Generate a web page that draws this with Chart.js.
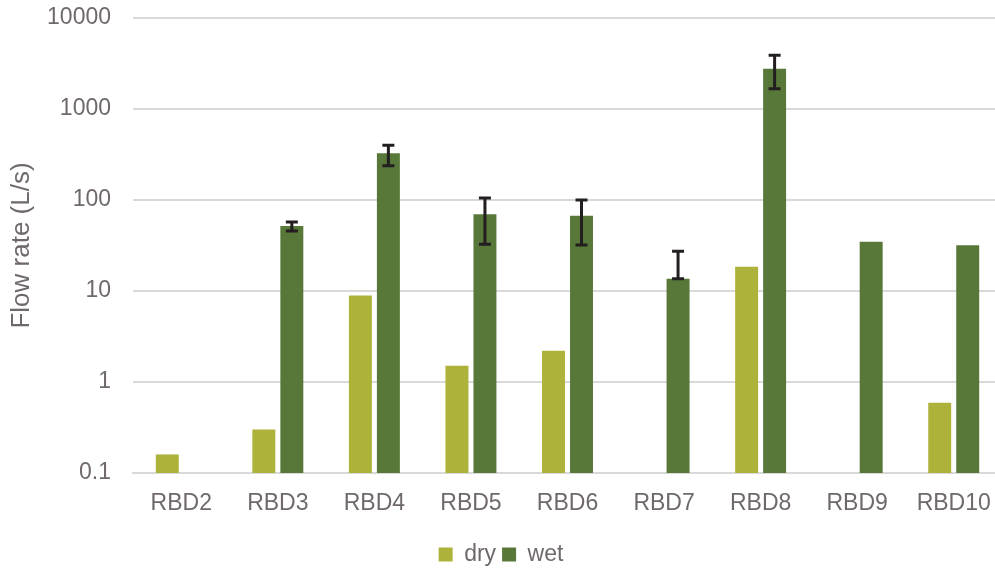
<!DOCTYPE html>
<html>
<head>
	<meta charset="utf-8">
	<title>Flow rate</title>
	<style>
		body { margin: 0; overflow: hidden; background: #fff; }
	</style>
</head>
<body>
	<canvas id="flowChart" width="1003" height="570"></canvas>
	<script src="https://cdn.jsdelivr.net/npm/chart.js"></script>
	<script>
		// values
		const sites = ['RBD2', 'RBD3', 'RBD4', 'RBD5', 'RBD6', 'RBD7', 'RBD8', 'RBD9', 'RBD10'];
		const dryFlow = [0.16, 0.30, 8.9, 1.51, 2.21, null, 18.5, null, 0.59];
		const wetFlow = [null, 51.8, 326, 69.6, 67.2, 13.6, 2770, 34.8, 31.8];
		const wetLow = [null, 45.6, 238, 32.6, 32, 13.6, 1670, null, null];
		const wetHigh = [null, 57.3, 399, 105, 100, 27.3, 3890, null, null];
		const yTicks = [0.1, 1, 10, 100, 1000, 10000];

		const textColor = '#6f6969';
		const gridColor = '#d9d9d9';

		// whiskers for the wet series
		const errorBars = {
			id: 'errorBars',
			afterDatasetsDraw(chart) {
				const ctx = chart.ctx;
				const meta = chart.getDatasetMeta(1);
				const y = chart.scales.y;
				ctx.save();
				ctx.strokeStyle = '#231f20';
				ctx.lineWidth = 3;
				meta.data.forEach((bar, i) => {
					if (wetLow[i] == null || wetHigh[i] == null) return;
					const x = bar.x;
					const yLo = y.getPixelForValue(wetLow[i]);
					const yHi = y.getPixelForValue(wetHigh[i]);
					ctx.beginPath();
					ctx.moveTo(x, yLo);
					ctx.lineTo(x, yHi);
					ctx.moveTo(x - 6, yLo);
					ctx.lineTo(x + 6, yLo);
					ctx.moveTo(x - 6, yHi);
					ctx.lineTo(x + 6, yHi);
					ctx.stroke();
				});
				ctx.restore();
			}
		};

		new Chart(document.getElementById('flowChart'), {
			type: 'bar',
			data: {
				labels: sites,
				datasets: [
					{ label: 'dry', data: dryFlow, backgroundColor: '#adb23a' },
					{ label: 'wet', data: wetFlow, backgroundColor: '#58783a' }
				]
			},
			options: {
				responsive: false,
				animation: false,
				categoryPercentage: 0.58,
				barPercentage: 0.82,
				layout: { padding: { top: 18, right: 1, bottom: -6, left: 0 } },
				plugins: {
					legend: {
						position: 'bottom',
						labels: {
							color: textColor,
							boxWidth: 14,
							boxHeight: 14,
							padding: 6,
							font: { family: 'Liberation Sans', size: 23 }
						}
					},
					tooltip: { enabled: false }
				},
				scales: {
					x: {
						afterFit(scale) { scale.height = 64; },
						grid: { display: false },
						border: { color: gridColor, width: 2 },
						ticks: {
							color: textColor,
							padding: 9,
							font: { family: 'Liberation Sans', size: 23 }
						}
					},
					y: {
						type: 'logarithmic',
						min: 0.1,
						max: 10000,
						afterFit(scale) { scale.width = 133; },
						afterBuildTicks(scale) {
							scale.ticks = yTicks.map(v => ({ value: v, major: true }));
						},
						grid: {
							color: gridColor,
							lineWidth: 2,
							drawTicks: true,
							tickLength: 22,
							tickColor: 'rgba(0,0,0,0)'
						},
						border: { display: false },
						ticks: {
							color: textColor,
							padding: 0,
							font: { family: 'Liberation Sans', size: 23 },
							callback: v => String(v)
						},
						title: {
							display: true,
							text: 'Flow rate (L/s)',
							color: textColor,
							padding: { top: 6, bottom: 0 },
							font: { family: 'Liberation Sans', size: 26 }
						}
					}
				}
			},
			plugins: [errorBars]
		});
	</script>
</body>
</html>
